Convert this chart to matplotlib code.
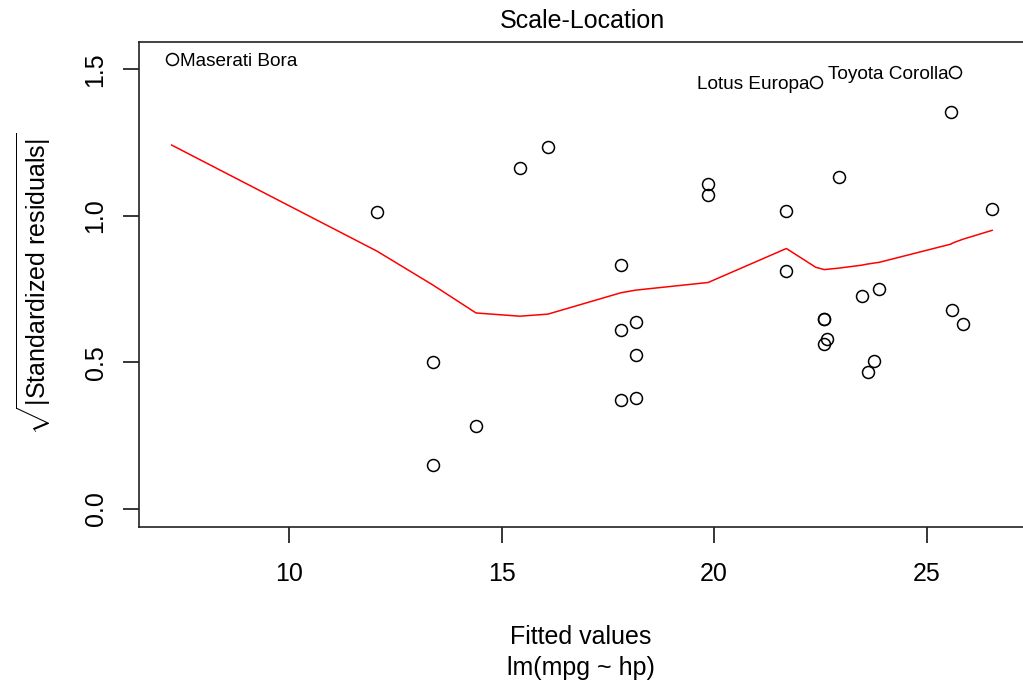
#!/usr/bin/env python3
"""Scale-Location diagnostic plot for lm(mpg ~ hp), redrawn in matplotlib."""

import matplotlib

matplotlib.use("Agg")
import matplotlib.pyplot as plt

plt.rcParams["font.family"] = ["Liberation Sans", "DejaVu Sans"]
plt.rcParams["mathtext.fontset"] = "custom"
plt.rcParams["mathtext.rm"] = "Liberation Sans"
plt.rcParams["mathtext.it"] = "Liberation Sans:italic"

# fitted values and sqrt(|standardized residuals|)
fitted = [
    7.24, 12.07, 13.39, 13.39, 14.40, 15.43, 16.09,
    17.81, 17.81, 17.81, 18.16, 18.16, 18.16,
    19.86, 19.86, 21.70, 21.70, 22.39, 22.59, 22.59,
    22.66, 22.59, 22.93, 23.47, 23.89, 23.75, 23.61,
    25.59, 25.86, 25.57, 25.67, 26.54,
]
sqrt_std_resid = [
    1.534, 1.013, 0.501, 0.150, 0.283, 1.163, 1.235,
    0.832, 0.611, 0.372, 0.638, 0.524, 0.378,
    1.108, 1.071, 1.016, 0.813, 1.456, 0.649, 0.649,
    0.579, 0.562, 1.132, 0.727, 0.750, 0.504, 0.466,
    0.678, 0.631, 1.354, 1.490, 1.023,
]

# red smoother line
smooth_x = [
    7.24, 12.07, 13.39, 14.40, 15.43, 16.09, 17.81, 18.16, 19.86,
    21.70, 22.39, 22.59, 22.66, 22.93, 23.47, 23.61, 23.75, 23.89,
    25.57, 25.59, 25.67, 25.86, 26.54,
]
smooth_y = [
    1.242, 0.880, 0.764, 0.669, 0.658, 0.665, 0.738, 0.747, 0.773,
    0.889, 0.825, 0.817, 0.818, 0.822, 0.832, 0.836, 0.839, 0.842,
    0.904, 0.906, 0.911, 0.921, 0.951,
]

# labelled extreme points: (name, x, y, side)
labels = [
    ("Maserati Bora", 7.24, 1.534, "right"),
    ("Lotus Europa", 22.39, 1.456, "left"),
    ("Toyota Corolla", 25.67, 1.490, "left"),
]

x_ticks = [10, 15, 20, 25]
y_ticks = [0.0, 0.5, 1.0, 1.5]
y_tick_labels = ["0.0", "0.5", "1.0", "1.5"]

FS = 18

fig = plt.figure(figsize=(10.23, 6.88), dpi=100)
ax = fig.add_axes([138.8 / 1023, 1 - 527 / 688, 886.5 / 1023, 485.5 / 688])

ax.plot(fitted, sqrt_std_resid, linestyle="none", marker="o", markersize=8.6,
        markerfacecolor="none", markeredgecolor="black", markeredgewidth=1.1)
ax.plot(smooth_x, smooth_y, color="red", linewidth=1.1)

for name, x, y, side in labels:
    if side == "right":
        ax.annotate(name, (x, y), xytext=(6, -5), textcoords="offset points",
                    ha="left", va="baseline", fontsize=13.7)
    else:
        ax.annotate(name, (x, y), xytext=(-4.5, -5), textcoords="offset points",
                    ha="right", va="baseline", fontsize=13.7)

ax.set_xlim(6.468, 27.32)
ax.set_ylim(-0.0614, 1.5954)

ax.set_xticks(x_ticks)
ax.set_yticks(y_ticks)
ax.set_yticklabels(y_tick_labels, rotation=90, va="center")
ax.tick_params(axis="both", direction="out", length=11.5, width=1.1,
               labelsize=FS, color="black")
ax.tick_params(axis="x", pad=14)
ax.tick_params(axis="y", pad=11)

for spine in ax.spines.values():
    spine.set_linewidth(1.2)
    spine.set_color("#222222")

ax.set_title("Scale-Location", fontsize=FS, pad=9.7)

fig.text(581 / 1023, 1 - 644 / 688, "Fitted values", ha="center",
         va="baseline", fontsize=FS)
fig.text(581 / 1023, 1 - 675 / 688, "lm(mpg ~ hp)", ha="center",
         va="baseline", fontsize=FS)

ax.set_ylabel(r"$\sqrt{|\mathrm{Standardized\ residuals}|}$", fontsize=FS)
ax.yaxis.set_label_coords(-0.097, 0.5)

fig.savefig("out.png", dpi=100, facecolor="white")
